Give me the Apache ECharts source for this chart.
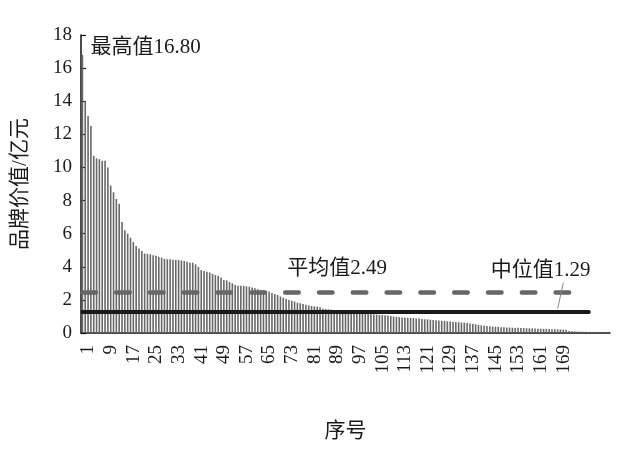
<!DOCTYPE html>
<html>
<head>
<meta charset="utf-8">
<script src="https://cdn.jsdelivr.net/npm/echarts@6/dist/echarts.min.js"></script>
<style>
  html, body { margin: 0; padding: 0; background: #fff; }
  #brandChart { width: 640px; height: 461px; }
</style>
</head>
<body>
<div id="brandChart"></div>
<script>
// brand values (亿元), sorted from high to low
var brandValues = [
  16.80, 14.0, 13.1, 12.5, 10.7, 10.55, 10.5, 10.4, 10.4, 10.0,
  8.9, 8.5, 8.1, 7.8, 6.7, 6.2, 6.0, 5.75, 5.5, 5.25,
  5.1, 4.95, 4.8, 4.78, 4.75, 4.7, 4.67, 4.6, 4.55, 4.48,
  4.45, 4.45, 4.43, 4.42, 4.4, 4.38, 4.35, 4.3, 4.25, 4.25,
  4.15, 4.0, 3.8, 3.75, 3.7, 3.65, 3.57, 3.5, 3.45, 3.35,
  3.2, 3.18, 3.08, 3.0, 2.9, 2.85, 2.85, 2.85, 2.82, 2.8,
  2.75, 2.7, 2.65, 2.6, 2.58, 2.55, 2.5, 2.42, 2.35, 2.3,
  2.2, 2.13, 2.05, 2.0, 1.95, 1.9, 1.83, 1.8, 1.75, 1.7,
  1.67, 1.63, 1.61, 1.59, 1.55, 1.47, 1.45, 1.43, 1.41, 1.39,
  1.37, 1.35, 1.32, 1.29, 1.28, 1.27, 1.26, 1.25, 1.24, 1.22,
  1.2, 1.18, 1.15, 1.13, 1.11, 1.1, 1.08, 1.07, 1.05, 1.03,
  1.0, 0.98, 0.96, 0.94, 0.93, 0.92, 0.91, 0.9, 0.88, 0.87,
  0.85, 0.83, 0.82, 0.80, 0.78, 0.77, 0.75, 0.74, 0.72, 0.71,
  0.69, 0.68, 0.66, 0.65, 0.63, 0.62, 0.60, 0.58, 0.55, 0.52,
  0.49, 0.46, 0.44, 0.42, 0.4, 0.39, 0.38, 0.37, 0.35, 0.34,
  0.33, 0.33, 0.32, 0.31, 0.31, 0.30, 0.30, 0.29, 0.28, 0.28,
  0.27, 0.26, 0.26, 0.25, 0.25, 0.24, 0.23, 0.22, 0.22, 0.21,
  0.21, 0.20, 0.12, 0.11, 0.10, 0.09, 0.08, 0.08, 0.07, 0.06,
  0.06, 0.05, 0.05, 0.04, 0.04, 0.03, 0.02
]
// 序号 1..n
var serialNumbers = brandValues.map(function (v, i) { return String(i + 1) })
var lastLabeled = 169
var labelStep = 8

var maxValue = 16.80
var meanValue = 2.49
var medianValue = 1.29

var yMin = 0
var yMax = 18
var yStep = 2

var fontFamily = "'Liberation Serif', 'Times New Roman', 'Noto Sans CJK SC', serif"
var textColor = '#1a1a1a'

var myChart = echarts.init(document.getElementById('brandChart'))

var option = {
  animation: false,
  backgroundColor: '#fff',
  grid: { left: 81, right: 30, top: 35, bottom: 128 },
  xAxis: {
    type: 'category',
    data: serialNumbers,
    boundaryGap: true,
    name: '序号',
    nameLocation: 'middle',
    nameGap: 88,
    nameTextStyle: { fontSize: 21, color: textColor, fontFamily: fontFamily },
    axisLine: { lineStyle: { color: '#111', width: 1.5 } },
    axisTick: { show: false },
    axisLabel: {
      rotate: 90,
      margin: 12,
      fontSize: 19,
      color: textColor,
      fontFamily: fontFamily,
      // rotated text: top alignment with a short line box moves labels a bit right, as in the original
      verticalAlign: 'top',
      lineHeight: 12,
      interval: function (index) {
        return index % labelStep === 0 && index < lastLabeled
      }
    },
    splitLine: { show: false }
  },
  yAxis: {
    type: 'value',
    min: yMin,
    max: yMax,
    interval: yStep,
    name: '品牌价值/亿元',
    nameLocation: 'middle',
    nameGap: 50,
    nameRotate: 90,
    nameTextStyle: { fontSize: 21, color: textColor, fontFamily: fontFamily },
    axisLine: { show: true, lineStyle: { color: '#111', width: 1.5 } },
    axisTick: { show: true, inside: true, length: 5, lineStyle: { color: '#111', width: 1.2 } },
    axisLabel: { fontSize: 19, margin: 9, color: textColor, fontFamily: fontFamily },
    splitLine: { show: false }
  },
  series: [
    {
      type: 'bar',
      data: brandValues,
      barWidth: 1.6,
      itemStyle: { color: '#686868' },
      silent: true,
      markLine: {
        silent: true,
        symbol: 'none',
        label: { show: false },
        data: [
          [
            { coord: [0, meanValue], lineStyle: { color: '#666', width: 4.5, type: [13.5, 20.3], cap: 'round' } },
            { coord: [173, meanValue] }
          ],
          [
            { coord: [0, medianValue], lineStyle: { color: '#1a1a1a', width: 4, type: 'solid', cap: 'round' } },
            { coord: [179, medianValue] }
          ],
          [
            { coord: [168, 1.47], lineStyle: { color: '#888', width: 1, type: 'solid' } },
            { coord: [170, 3.03] }
          ]
        ]
      },
      markPoint: {
        silent: true,
        symbol: 'circle',
        symbolSize: 0,
        label: {
          show: true,
          position: 'inside',
          fontSize: 21,
          color: textColor,
          fontFamily: fontFamily
        },
        data: [
          { coord: [0, maxValue], label: { formatter: '最高值' + maxValue.toFixed(2), align: 'left', offset: [8, -7] } },
          { coord: [90, meanValue], label: { formatter: '平均值' + meanValue.toFixed(2), offset: [0, -23] } },
          { coord: [162, medianValue], label: { formatter: '中位值' + medianValue.toFixed(2), offset: [0, -41] } }
        ]
      }
    }
  ]
}

myChart.setOption(option)
</script>
</body>
</html>
